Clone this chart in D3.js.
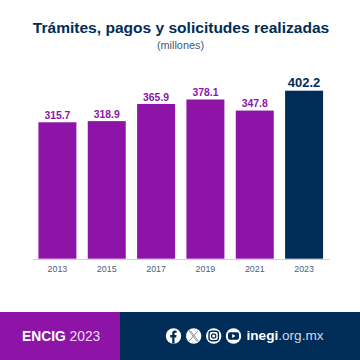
<!DOCTYPE html>
<html lang="es">
<head>
<meta charset="UTF-8">
<title>Trámites, pagos y solicitudes realizadas</title>
<script src="https://d3js.org/d3.v7.min.js"></script>
<style>
    html, body { margin: 0; padding: 0; background: #fff; }
    svg { display: block; }
    text { font-family: "Liberation Sans", Arial, sans-serif; }
</style>
</head>
<body>
<div id="chart"></div>
<script>
const years = ["2013", "2015", "2017", "2019", "2021", "2023"];
const values = [315.7, 318.9, 365.9, 378.1, 347.8, 402.2];

const purple = "#8e14a8";
const navy = "#002d58";

const svg = d3.select("#chart").append("svg").attr("width", 360).attr("height", 360);

svg.append("text").attr("x", 181).attr("y", 33).attr("text-anchor", "middle")
    .attr("font-size", 15.55).attr("font-weight", "bold").attr("fill", navy)
    .text("Trámites, pagos y solicitudes realizadas");
svg.append("text").attr("x", 180.5).attr("y", 48.5).attr("text-anchor", "middle")
    .attr("font-size", 10.9).attr("fill", "#3f5a78").text("(millones)");

// the bars in the original don't start from zero, baseline sits near -58
const x = d3.scaleBand().domain(years).range([32.5, 329]).paddingInner(0.23).paddingOuter(0.12);
const y = d3.scaleLinear().domain([-58, 402.2]).range([258.7, 90.7]);

svg.selectAll("rect.bar").data(years).join("rect")
    .attr("class", "bar")
    .attr("x", d => x(d))
    .attr("width", x.bandwidth())
    .attr("y", (d, i) => y(values[i]))
    .attr("height", (d, i) => y.range()[0] - y(values[i]))
    .attr("fill", d => d === "2023" ? navy : purple);

svg.selectAll("text.val").data(years).join("text")
    .attr("class", "val")
    .attr("x", d => x(d) + x.bandwidth() / 2)
    .attr("y", (d, i) => y(values[i]) - 3.4)
    .attr("text-anchor", "middle")
    .attr("font-weight", "bold")
    .attr("font-size", d => d === "2023" ? 13 : 10.4)
    .attr("fill", d => d === "2023" ? navy : purple)
    .text((d, i) => values[i].toFixed(1));

const axis = svg.append("g").attr("transform", "translate(0,259)")
    .call(d3.axisBottom(x).tickSize(0).tickPadding(6.5));
axis.select(".domain").attr("stroke", "#c9d2dc").attr("stroke-width", 1);
axis.selectAll("text").attr("font-size", 8.9).attr("fill", "#4a5f78")
    .attr("font-family", "'Liberation Sans', Arial, sans-serif");

// footer
svg.append("rect").attr("x", 0).attr("y", 312).attr("width", 360).attr("height", 48).attr("fill", navy);
svg.append("rect").attr("x", 0).attr("y", 312).attr("width", 120).attr("height", 48).attr("fill", purple);

const enc = svg.append("text").attr("x", 22).attr("y", 341).attr("font-size", 13.8).attr("fill", "#fff");
enc.append("tspan").attr("font-weight", "bold").text("ENCIG");
enc.append("tspan").attr("fill", "#eedcf2").text(" 2023");

const icons = [173.5, 193.7, 213.7, 233.5];
icons.forEach(cx => {
    svg.append("circle").attr("cx", cx).attr("cy", 336).attr("r", 7.7).attr("fill", "#fff");
});
// facebook f
svg.append("path").attr("transform", "translate(173.5,336)")
    .attr("d", "M-1.3 7.6V1.4H-3.3V-1H-1.3V-2.6C-1.3 -4.6 0 -5.4 1.4 -5.4L3.1 -5.3V-3.2H2C1.2 -3.2 1 -2.8 1 -2.1V-1H3L2.7 1.4H1V7.6Z")
    .attr("fill", navy);
// x
svg.append("path").attr("transform", "translate(193.7,336)")
    .attr("d", "M-4.5 -5L3 5H4.6L-3 -5ZM4.2 -5L-4.4 5")
    .attr("fill", "none").attr("stroke", "#6f8299").attr("stroke-width", 0.8);
// instagram
svg.append("rect").attr("x", 209).attr("y", 331.3).attr("width", 9.4).attr("height", 9.4).attr("rx", 2.6)
    .attr("fill", "none").attr("stroke", navy).attr("stroke-width", 1.4);
svg.append("circle").attr("cx", 213.7).attr("cy", 336).attr("r", 2.1)
    .attr("fill", "none").attr("stroke", navy).attr("stroke-width", 1.2);
// youtube
svg.append("rect").attr("x", 228).attr("y", 332.2).attr("width", 11).attr("height", 7.6).attr("rx", 2).attr("fill", navy);
svg.append("path").attr("transform", "translate(233.5,336)").attr("d", "M-1.3 -2L2 0L-1.3 2Z").attr("fill", "#fff");

const site = svg.append("text").attr("x", 246.5).attr("y", 340).attr("font-size", 13.6).attr("fill", "#fff");
site.append("tspan").attr("font-weight", "bold").text("inegi");
site.append("tspan").attr("fill", "#cfd8e3").text(".org.mx");
</script>
</body>
</html>
